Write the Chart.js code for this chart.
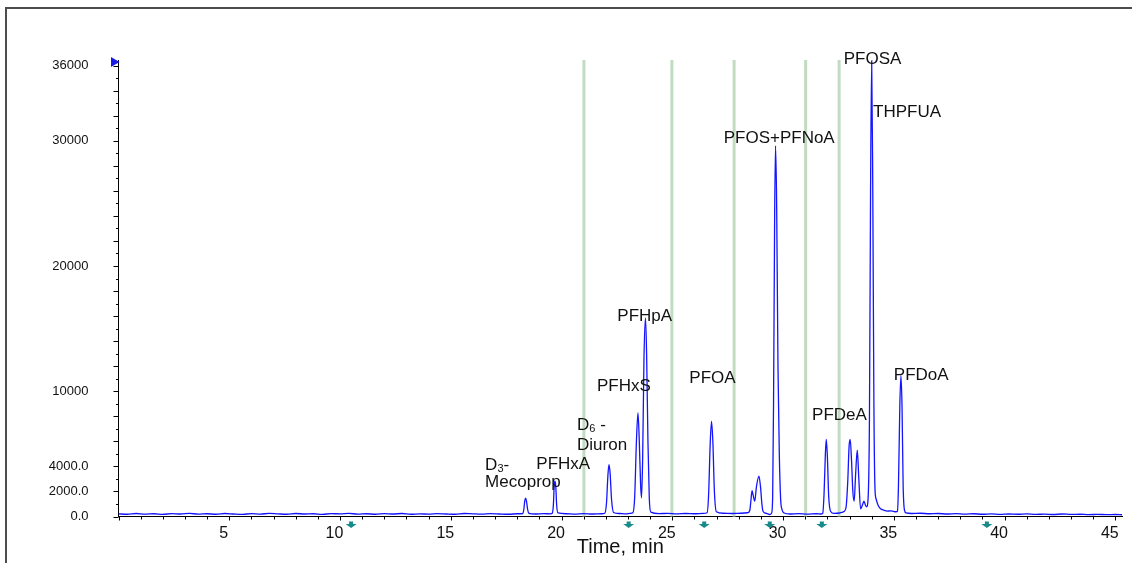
<!DOCTYPE html>
<html>
<head>
<meta charset="utf-8">
<title>XIC chromatogram</title>
<script src="https://cdn.jsdelivr.net/npm/chart.js@4.4.1/dist/chart.umd.min.js"></script>
<style>
  html, body { margin: 0; padding: 0; background: #fff; overflow: hidden; }
  #wrap { position: relative; width: 1132px; height: 563px; }
  #frame { position: absolute; left: 5px; top: 7px; right: 0; bottom: 0;
           border-top: 2px solid #4d4d4d; border-left: 2px solid #4d4d4d; }
  canvas { position: absolute; left: 0; top: 0; }
</style>
</head>
<body>
<div id="wrap">
  <div id="frame"></div>
  <canvas id="chromatogram" width="1132" height="563"></canvas>
</div>
<script>
// Trace: retention time (min) and intensity (cps), segment by segment
const retentionTime = [
    0.0, 0.4, 0.8, 1.2, 1.6, 2.0, 2.4, 2.8, 3.2, 3.6, 4.0, 4.4, 4.8, 5.2, 5.6, 6.0, 6.4, 6.8, 7.2, 7.6,
    8.0, 8.4, 8.8, 9.2, 9.6, 10.0, 10.4, 10.8, 11.2, 11.6, 12.0, 12.4, 12.8, 13.2, 13.6, 14.0, 14.4, 14.8, 15.2, 15.6,
    16.0, 16.4, 16.8, 17.2, 17.6, 18.0,
    18.25, 18.30, 18.34, 18.38, 18.42, 18.47, 18.53, 18.8, 19.2, 19.5,
    19.58, 19.63, 19.67, 19.70, 19.74, 19.78, 19.84, 20.2, 20.6, 21.0, 21.4, 21.8,
    21.95, 22.03, 22.09, 22.14, 22.19, 22.26, 22.35, 22.6, 22.9, 23.1,
    23.22, 23.30, 23.38, 23.45, 23.51, 23.57, 23.61, 23.66, 23.72, 23.79, 23.84, 23.90, 23.96, 24.03,
    24.4, 24.8, 25.2, 25.6, 26.0, 26.4,
    26.57, 26.64, 26.71, 26.77, 26.83, 26.90, 26.99,
    27.3, 27.7, 28.1, 28.4,
    28.50, 28.55, 28.60, 28.65, 28.72, 28.80, 28.91, 28.98, 29.05, 29.10, 29.25, 29.40,
    29.48, 29.53, 29.57, 29.62, 29.66, 29.71, 29.77, 29.83, 29.89, 29.95, 30.05,
    30.3, 30.7, 31.1, 31.5, 31.7,
    31.79, 31.85, 31.91, 31.95, 32.00, 32.06, 32.15, 32.30,
    32.55, 32.75, 32.84, 32.92, 32.98, 33.03, 33.09, 33.15, 33.21, 33.27, 33.35, 33.42, 33.50, 33.58, 33.65, 33.72, 33.77,
    33.84, 33.90, 33.95, 34.00, 34.05, 34.10, 34.15, 34.20, 34.30, 34.40, 34.55, 34.70, 34.85, 35.00, 35.10,
    35.16, 35.21, 35.27, 35.32, 35.37, 35.42, 35.48, 35.55,
    35.8, 36.2, 36.6, 37.0, 37.4, 37.8, 38.2, 38.6, 39.0, 39.4, 39.8, 40.2, 40.6, 41.0, 41.4, 41.8, 42.2, 42.6, 43.0, 43.4,
    43.8, 44.2, 44.6, 45.0, 45.3
];
const intensity = [
    210, 180, 240, 190, 220, 170, 230, 200, 250, 190, 220, 180, 240, 200, 170, 230, 190, 250, 210, 180,
    240, 200, 220, 170, 230, 210, 250, 190, 220, 180, 230, 200, 240, 180, 210, 190, 230, 200, 180, 240,
    210, 190, 230, 200, 180, 220,
    240, 600, 1250, 1470, 1200, 550, 250, 200, 230, 210,
    260, 900, 2500, 2820, 2400, 900, 280, 220, 190, 230, 200, 220,
    260, 1100, 3200, 4150, 3500, 1300, 320, 240, 210, 250,
    300, 1500, 6000, 8280, 6000, 2500, 1490, 4500, 12500, 15860, 13000, 6000, 1500, 350,
    230, 250, 210, 240, 220, 250,
    300, 1800, 5800, 7600, 6000, 2000, 380,
    260, 240, 260, 300,
    500, 1300, 2070, 1700, 1220, 2400, 3220, 2400, 900, 400, 250, 160,
    260, 1500, 9000, 24000, 29600, 25000, 12000, 5000, 1400, 560, 280,
    200, 230, 190, 220, 200,
    260, 1800, 5000, 6150, 4800, 1600, 400, 250,
    280, 400, 700, 2800, 5600, 6150, 4500, 2000, 1220, 3200, 5290, 3000, 610, 900, 1220, 900, 770,
    1500, 8000, 26000, 36400, 26000, 9000, 2200, 1400, 850, 620, 500, 430, 450, 400, 380,
    420, 2500, 8800, 11250, 8800, 2500, 500, 280,
    240, 260, 220, 240, 200, 230, 190, 220, 180, 210, 170, 200, 180, 210, 170, 190, 160, 200, 170, 180,
    150, 170, 150, 160, 140
];

// Axis ticks
const xTickLabels = [5, 10, 15, 20, 25, 30, 35, 40, 45];
const yTickValues = [0, 2000, 4000, 10000, 20000, 30000, 36000];
const yTickText = ['0.0', '2000.0', '4000.0', '10000', '20000', '30000', '36000'];

// Retention windows (green bars) and the teal markers under the axis, in min
const windowTimes = [21.01, 24.98, 27.79, 31.02, 32.53];
const markerTimes = [10.5, 23.03, 26.44, 29.4, 31.75, 39.2];

// Peak names, anchored by their left edge (min) and middle (cps); _x = subscript x
const peakLabels = ['D_3-', 'Mecoprop', 'PFHxA', 'D_6 -', 'Diuron', 'PFHxS', 'PFHpA', 'PFOA',
                    'PFOS+PFNoA', 'PFOSA', 'THPFUA', 'PFDeA', 'PFDoA'];
const labelTime = [16.55, 16.55, 18.86, 20.70, 20.70, 21.60, 22.52, 25.77, 27.32, 32.74, 34.06, 31.31, 35.00];
const labelLevel = [4100, 2690, 4180, 7290, 5700, 10400, 15980, 11030, 30160, 36510, 32250, 8090, 11270];

const FONT = 'Arial, "Liberation Sans", sans-serif';
const TEXT_COLOR = '#111';

// Draw text with simple "_x" subscripts
function drawLabel(ctx, text, x, y) {
    const parts = text.split(/(_.)/).filter(p => p.length);
    let cx = x;
    parts.forEach(part => {
        if (part[0] === '_') {
            ctx.font = '11px ' + FONT;
            ctx.fillText(part[1], cx, y + 4);
            cx += ctx.measureText(part[1]).width;
        } else {
            ctx.font = '17px ' + FONT;
            ctx.fillText(part, cx, y);
            cx += ctx.measureText(part).width;
        }
    });
}

const chromDecorations = {
    id: 'chromDecorations',
    beforeDatasetsDraw(chart) {
        const { ctx, chartArea, scales: { x } } = chart;
        ctx.save();
        ctx.strokeStyle = '#c2dcc2';
        ctx.lineWidth = 3;
        windowTimes.forEach(t => {
            const px = x.getPixelForValue(t);
            ctx.beginPath();
            ctx.moveTo(px, chartArea.top);
            ctx.lineTo(px, chartArea.bottom);
            ctx.stroke();
        });
        ctx.restore();
    },
    afterDraw(chart) {
        const { ctx, chartArea, scales: { x, y } } = chart;
        ctx.save();

        // tick marks
        ctx.strokeStyle = '#000';
        ctx.lineWidth = 1;
        y.ticks.forEach(t => {
            const py = Math.round(y.getPixelForValue(t.value)) + 0.5;
            const len = t.value % 2000 === 0 ? 5 : 2.5;
            ctx.beginPath();
            ctx.moveTo(chartArea.left - len, py);
            ctx.lineTo(chartArea.left, py);
            ctx.stroke();
        });
        x.ticks.forEach(t => {
            const px = Math.round(x.getPixelForValue(t.value)) + 0.5;
            const len = t.value % 5 === 0 ? 4 : 3;
            ctx.beginPath();
            ctx.moveTo(px, chartArea.bottom);
            ctx.lineTo(px, chartArea.bottom + len);
            ctx.stroke();
        });

        // blue marker at the top of the intensity axis
        ctx.fillStyle = '#1a1ae6';
        ctx.beginPath();
        ctx.moveTo(chartArea.left - 7.5, chartArea.top - 3);
        ctx.lineTo(chartArea.left - 7.5, chartArea.top + 7);
        ctx.lineTo(chartArea.left + 1, chartArea.top + 2);
        ctx.closePath();
        ctx.fill();

        // teal arrows under the time axis
        ctx.fillStyle = '#178a8a';
        markerTimes.forEach(t => {
            const px = x.getPixelForValue(t);
            const top = chartArea.bottom + 5;
            ctx.fillRect(px - 2, top, 4, 2.5);
            ctx.beginPath();
            ctx.moveTo(px - 5.5, top + 2.5);
            ctx.lineTo(px + 5.5, top + 2.5);
            ctx.lineTo(px, top + 6.5);
            ctx.closePath();
            ctx.fill();
        });

        // peak names
        ctx.fillStyle = TEXT_COLOR;
        ctx.textAlign = 'left';
        ctx.textBaseline = 'middle';
        peakLabels.forEach((name, i) => {
            drawLabel(ctx, name, x.getPixelForValue(labelTime[i]), y.getPixelForValue(labelLevel[i]));
        });

        ctx.restore();
    }
};

const points = retentionTime.map((t, i) => ({ x: t, y: intensity[i] }));

const chart = new Chart(document.getElementById('chromatogram'), {
    type: 'line',
    data: {
        datasets: [{
            data: points,
            borderColor: '#1414ff',
            borderWidth: 1.3,
            pointRadius: 0,
            fill: false,
            cubicInterpolationMode: 'monotone'
        }]
    },
    options: {
        responsive: false,
        animation: false,
        devicePixelRatio: 1,
        layout: { padding: { top: 60, right: 10, bottom: 0, left: 0 } },
        plugins: {
            legend: { display: false },
            tooltip: { enabled: false }
        },
        scales: {
            x: {
                type: 'linear',
                min: 0,
                max: 45.3,
                afterFit: scale => { scale.height = 46.5; },
                border: { display: true, color: '#000', width: 1 },
                grid: { display: false, drawTicks: false },
                ticks: {
                    stepSize: 1,
                    autoSkip: false,
                    maxRotation: 0,
                    includeBounds: false,
                    padding: 7,
                    labelOffset: -5.5,
                    color: TEXT_COLOR,
                    font: { family: FONT, size: 16 },
                    callback: value => xTickLabels.includes(value) ? String(value) : ''
                },
                title: {
                    display: true,
                    text: 'Time, min',
                    color: TEXT_COLOR,
                    font: { family: FONT, size: 20, lineHeight: 1 },
                    padding: { top: 0, bottom: 6 }
                }
            },
            y: {
                min: 0,
                max: 36450,
                afterFit: scale => { scale.width = 118.5; },
                // one tick every 1000 cps up to the last labelled value
                afterBuildTicks: scale => {
                    const ticks = [];
                    for (let v = 0; v <= yTickValues[yTickValues.length - 1]; v += 1000) {
                        ticks.push({ value: v });
                    }
                    scale.ticks = ticks;
                },
                border: { display: true, color: '#000', width: 1 },
                grid: { display: false, drawTicks: false },
                ticks: {
                    autoSkip: false,
                    padding: 30,
                    color: TEXT_COLOR,
                    font: { family: FONT, size: 13 },
                    callback: value => {
                        const idx = yTickValues.indexOf(value);
                        return idx >= 0 ? yTickText[idx] : '';
                    }
                }
            }
        }
    },
    plugins: [chromDecorations]
});
</script>
</body>
</html>
